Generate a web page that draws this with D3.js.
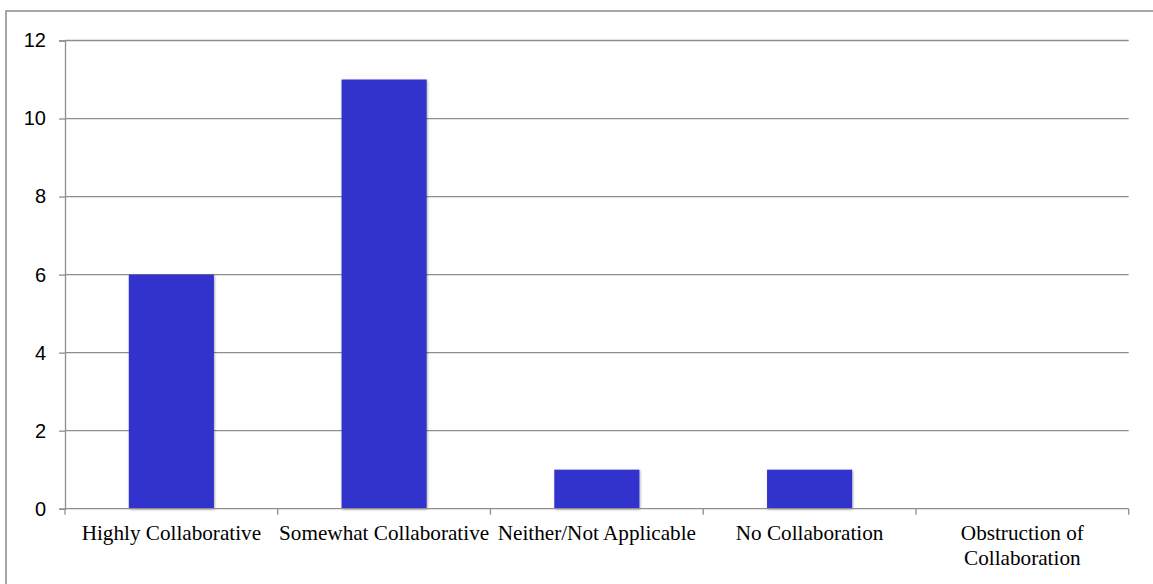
<!DOCTYPE html>
<html>
<head>
<meta charset="utf-8">
<script src="https://cdn.jsdelivr.net/npm/d3@7"></script>
<style>
  html, body { margin: 0; padding: 0; background: #fff; }
  svg { display: block; }
</style>
</head>
<body>
<script>
const categories = ["Highly Collaborative", "Somewhat Collaborative", "Neither/Not Applicable", "No Collaboration", "Obstruction of Collaboration"];
const categoryLabels = [["Highly Collaborative"], ["Somewhat Collaborative"], ["Neither/Not Applicable"], ["No Collaboration"], ["Obstruction of", "Collaboration"]];
const values = [6, 11, 1, 1, 0];
const yTicks = [0, 2, 4, 6, 8, 10, 12];

const W = 1153, H = 584;
const margin = { left: 65, right: 24.3, top: 40.5, bottom: 75.3 };
const svg = d3.select("body").append("svg").attr("width", W).attr("height", H);

const defs = svg.append("defs");
const f = defs.append("filter").attr("id", "shadow").attr("x", "-10%").attr("y", "-10%").attr("width", "120%").attr("height", "120%");
f.append("feDropShadow").attr("dx", 0.8).attr("dy", 0.8).attr("stdDeviation", 1.2).attr("flood-color", "#000").attr("flood-opacity", 0.35);

// outer border
svg.append("rect").attr("x", 6).attr("y", 11).attr("width", W + 20).attr("height", H + 20)
  .attr("fill", "none").attr("stroke", "#8a8a8a").attr("stroke-width", 1.5);

const x = d3.scaleBand().domain(categories).range([margin.left, W - margin.right]).paddingInner(0).paddingOuter(0);
const y = d3.scaleLinear().domain([0, 12]).range([H - margin.bottom, margin.top]);

const gridColor = "#8e8e8e";

// gridlines
svg.append("g").selectAll("line").data(yTicks.filter(d => d !== 0)).join("line")
  .attr("x1", margin.left).attr("x2", W - margin.right)
  .attr("y1", d => y(d)).attr("y2", d => y(d))
  .attr("stroke", gridColor).attr("stroke-width", 1.3);

// y axis
const yAxis = svg.append("g").attr("transform", `translate(${margin.left},0)`)
  .call(d3.axisLeft(y).tickValues(yTicks).tickSize(6).tickPadding(13).tickFormat(d3.format("d")));
yAxis.attr("font-size", null).attr("font-family", null);
yAxis.select(".domain").attr("stroke", gridColor).attr("stroke-width", 1.3);
yAxis.selectAll(".tick line").attr("stroke", gridColor).attr("stroke-width", 1.3);
yAxis.selectAll(".tick text")
  .style("font-family", "'Liberation Sans', Arial, sans-serif").style("font-size", "20px").attr("fill", "#000");

// bars
const bw = x.bandwidth() * 0.4;
svg.append("g").selectAll("rect").data(values.map((v, i) => ({ c: categories[i], v }))).join("rect")
  .attr("x", d => x(d.c) + (x.bandwidth() - bw) / 2)
  .attr("width", bw)
  .attr("y", d => y(d.v))
  .attr("height", d => y(0) - y(d.v))
  .attr("fill", "#3333cc")
  .attr("filter", "url(#shadow)")
  .style("display", d => d.v > 0 ? null : "none");

// x axis
const xAxis = svg.append("g").attr("transform", `translate(0,${y(0)})`);
xAxis.append("line").attr("x1", margin.left).attr("x2", W - margin.right).attr("y1", 0).attr("y2", 0)
  .attr("stroke", gridColor).attr("stroke-width", 1.3);
const bounds = categories.map(c => x(c)).concat([W - margin.right]);
xAxis.selectAll("line.tk").data(bounds).join("line").attr("class", "tk")
  .attr("x1", d => d).attr("x2", d => d).attr("y1", 0).attr("y2", 6)
  .attr("stroke", gridColor).attr("stroke-width", 1.3);

const labels = xAxis.selectAll("text.lbl").data(categories).join("text").attr("class", "lbl")
  .attr("x", d => x(d) + x.bandwidth() / 2)
  .attr("y", 31.5)
  .attr("text-anchor", "middle")
  .style("font-family", "'Liberation Serif', 'Times New Roman', serif")
  .style("font-size", "21.2px")
  .attr("fill", "#000");
labels.each(function(d, i) {
  const t = d3.select(this);
  categoryLabels[i].forEach((line, j) => {
    t.append("tspan").attr("x", x(d) + x.bandwidth() / 2).attr("dy", j === 0 ? 0 : 25).text(line);
  });
});
</script>
</body>
</html>
